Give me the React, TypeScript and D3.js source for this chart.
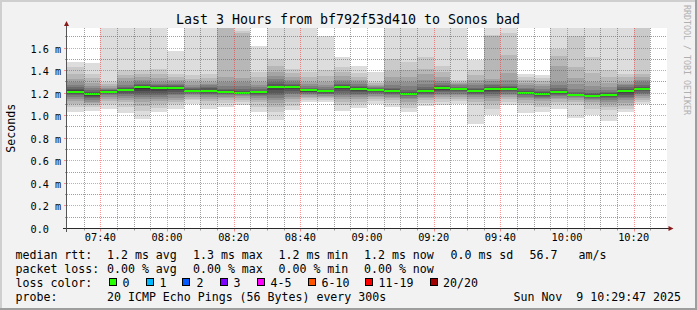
import React from "react";
import * as d3 from "d3";

const W = 697;
const H = 310;

// ---- data ----
const barStarts = [
  "07:30","07:35","07:40","07:45","07:50","07:55","08:00","08:05","08:10","08:15",
  "08:20","08:25","08:30","08:35","08:40","08:45","08:50","08:55","09:00","09:05",
  "09:10","09:15","09:20","09:25","09:30","09:35","09:40","09:45","09:50","09:55",
  "10:00","10:05","10:10","10:15","10:20",
];

const medianRtt = [
  1.212,1.189,1.212,1.230,1.251,1.242,1.242,1.221,1.221,1.209,
  1.204,1.206,1.251,1.251,1.224,1.215,1.251,1.233,1.224,1.215,
  1.189,1.215,1.242,1.233,1.215,1.233,1.233,1.204,1.189,1.206,
  1.180,1.171,1.180,1.215,1.233,
];

// 20 sorted ping RTTs (ms) per 5-minute step
const pingSets = [
  [1.032,1.077,1.106,1.130,1.150,1.165,1.180,1.190,1.200,1.208,1.215,1.224,1.236,1.254,1.268,1.298,1.327,1.372,1.431,1.475],
  [1.045,1.075,1.095,1.110,1.125,1.140,1.155,1.168,1.178,1.185,1.190,1.198,1.210,1.225,1.245,1.265,1.290,1.330,1.372,1.466],
  [1.062,1.100,1.130,1.150,1.168,1.180,1.190,1.198,1.204,1.210,1.213,1.218,1.225,1.232,1.240,1.250,1.262,1.280,1.298,1.850],
  [1.024,1.080,1.120,1.140,1.160,1.175,1.190,1.205,1.215,1.225,1.233,1.240,1.248,1.258,1.275,1.300,1.330,1.360,1.401,1.900],
  [0.973,1.040,1.090,1.120,1.145,1.165,1.185,1.200,1.220,1.240,1.255,1.262,1.270,1.280,1.295,1.315,1.340,1.370,1.401,1.950],
  [1.032,1.070,1.105,1.130,1.150,1.170,1.185,1.200,1.220,1.235,1.245,1.255,1.262,1.272,1.285,1.300,1.330,1.370,1.416,1.880],
  [1.062,1.100,1.120,1.140,1.160,1.180,1.195,1.210,1.225,1.237,1.245,1.252,1.260,1.270,1.283,1.300,1.320,1.345,1.372,1.578],
  [1.106,1.135,1.150,1.165,1.180,1.190,1.200,1.208,1.214,1.219,1.223,1.228,1.235,1.245,1.258,1.275,1.295,1.325,1.357,1.820],
  [1.062,1.106,1.130,1.150,1.165,1.180,1.192,1.203,1.212,1.218,1.224,1.232,1.242,1.255,1.270,1.285,1.298,1.330,1.372,1.860],
  [1.077,1.110,1.135,1.155,1.170,1.182,1.192,1.200,1.205,1.208,1.211,1.216,1.225,1.240,1.265,1.300,1.340,1.800,1.950,2.100],
  [1.091,1.120,1.140,1.160,1.172,1.183,1.192,1.198,1.202,1.204,1.206,1.212,1.222,1.238,1.262,1.295,1.330,1.730,1.752,1.900],
  [1.032,1.080,1.120,1.140,1.158,1.172,1.185,1.195,1.200,1.204,1.208,1.214,1.222,1.235,1.252,1.272,1.300,1.340,1.386,1.614],
  [0.959,1.030,1.080,1.110,1.136,1.158,1.180,1.200,1.225,1.245,1.255,1.265,1.280,1.300,1.325,1.350,1.390,1.440,1.504,1.900],
  [1.047,1.090,1.120,1.150,1.170,1.190,1.205,1.220,1.235,1.246,1.255,1.262,1.270,1.282,1.300,1.320,1.345,1.380,1.416,1.880],
  [1.121,1.140,1.155,1.170,1.180,1.190,1.198,1.206,1.214,1.221,1.227,1.233,1.240,1.250,1.262,1.280,1.300,1.340,1.386,1.820],
  [1.121,1.140,1.155,1.168,1.178,1.188,1.196,1.204,1.210,1.213,1.217,1.222,1.230,1.240,1.255,1.275,1.300,1.350,1.401,1.711],
  [1.041,1.091,1.120,1.145,1.165,1.185,1.205,1.222,1.238,1.248,1.254,1.262,1.272,1.285,1.300,1.320,1.350,1.390,1.431,1.519],
  [1.068,1.100,1.125,1.150,1.168,1.182,1.196,1.208,1.220,1.229,1.237,1.245,1.255,1.265,1.278,1.295,1.315,1.345,1.380,1.437],
  [1.106,1.130,1.150,1.165,1.178,1.190,1.200,1.208,1.215,1.221,1.227,1.233,1.240,1.248,1.256,1.265,1.275,1.288,1.298,1.386],
  [1.077,1.110,1.135,1.155,1.170,1.183,1.195,1.204,1.210,1.213,1.217,1.224,1.235,1.250,1.270,1.300,1.340,1.400,1.504,1.900],
  [1.032,1.070,1.100,1.125,1.145,1.160,1.172,1.180,1.185,1.188,1.191,1.197,1.210,1.230,1.260,1.298,1.340,1.401,1.475,1.880],
  [1.083,1.110,1.135,1.155,1.170,1.183,1.195,1.204,1.210,1.213,1.218,1.226,1.238,1.255,1.283,1.320,1.370,1.416,1.519,1.900],
  [1.091,1.121,1.145,1.165,1.180,1.195,1.208,1.220,1.230,1.238,1.245,1.252,1.262,1.275,1.290,1.310,1.342,1.390,1.437,1.850],
  [1.106,1.130,1.150,1.168,1.182,1.195,1.206,1.215,1.224,1.230,1.236,1.242,1.250,1.258,1.268,1.280,1.292,1.303,1.313,1.820],
  [0.923,1.091,1.120,1.145,1.165,1.180,1.192,1.202,1.209,1.213,1.217,1.224,1.235,1.250,1.268,1.290,1.320,1.360,1.401,1.490],
  [1.003,1.062,1.100,1.130,1.155,1.175,1.192,1.208,1.220,1.229,1.237,1.245,1.255,1.268,1.285,1.305,1.327,1.708,1.715,1.850],
  [1.091,1.121,1.145,1.165,1.182,1.196,1.208,1.218,1.226,1.231,1.235,1.242,1.252,1.265,1.285,1.320,1.380,1.534,1.730,1.880],
  [1.024,1.091,1.115,1.136,1.155,1.170,1.182,1.192,1.198,1.202,1.206,1.212,1.222,1.235,1.250,1.268,1.290,1.315,1.340,1.372],
  [1.032,1.077,1.105,1.128,1.145,1.158,1.170,1.178,1.184,1.187,1.191,1.198,1.208,1.222,1.240,1.260,1.283,1.310,1.335,1.357],
  [1.062,1.100,1.125,1.145,1.160,1.175,1.187,1.196,1.201,1.204,1.208,1.215,1.228,1.245,1.270,1.300,1.445,1.530,1.593,1.900],
  [0.982,1.091,1.120,1.140,1.155,1.165,1.172,1.176,1.178,1.179,1.181,1.186,1.195,1.212,1.240,1.283,1.330,1.431,1.711,1.900],
  [1.003,1.062,1.100,1.125,1.140,1.152,1.160,1.165,1.168,1.170,1.173,1.178,1.188,1.205,1.230,1.262,1.300,1.380,1.519,1.880],
  [0.953,1.047,1.080,1.105,1.125,1.142,1.156,1.166,1.173,1.178,1.182,1.188,1.198,1.212,1.232,1.258,1.290,1.340,1.401,1.850],
  [1.032,1.062,1.090,1.115,1.138,1.155,1.170,1.185,1.200,1.210,1.219,1.228,1.240,1.255,1.268,1.280,1.298,1.340,1.372,1.830],
  [1.106,1.121,1.140,1.158,1.175,1.190,1.205,1.217,1.226,1.231,1.236,1.245,1.258,1.275,1.295,1.318,1.340,1.372,1.800,1.950],
];

const yTickValues = [0, 0.2, 0.4, 0.6, 0.8, 1.0, 1.2, 1.4, 1.6];
const yTickLabels = ["0.0", "0.2 m", "0.4 m", "0.6 m", "0.8 m", "1.0 m", "1.2 m", "1.4 m", "1.6 m"];
const xTickLabels = ["07:40", "08:00", "08:20", "08:40", "09:00", "09:20", "09:40", "10:00", "10:20"];

const titleText = "Last 3 Hours from bf792f53d410 to Sonos bad";
const rttStats = ["1.2 ms avg", "1.3 ms max", "1.2 ms min", "1.2 ms now", "0.0 ms sd", "56.7", "am/s"];
const lossStats = ["0.00 % avg", "0.00 % max", "0.00 % min", "0.00 % now"];
const lossLabels = ["0", "1", "2", "3", "4-5", "6-10", "11-19", "20/20"];
const lossColors = ["#26ff00", "#00b8ff", "#0059ff", "#7e00ff", "#ff00ff", "#ff5500", "#ff0000", "#a10000"];
const probeText = "20 ICMP Echo Pings (56 Bytes) every 300s";
const dateText = "Sun Nov  9 10:29:47 2025";

// ---- layout ----
const PL = 67, PR = 667, PT = 28, PB = 228.5;
const rttStatX = [107, 193, 278.5, 364, 450.5, 529.5, 578.5];
const lossStatX = [107, 193, 278.5, 364];
const swatchX = [108.5, 145.5, 182, 219.5, 256.5, 307.5, 365, 430];
const swatchLabelX = [122.5, 159.5, 196.5, 233.5, 270.5, 321.5, 378.5, 443];

const FONT = "'DejaVu Sans Mono', monospace";

const toDate = (s: string) => {
  const [h, m] = s.split(":").map(Number);
  return new Date(2025, 10, 9, h, m);
};

export default function App() {
  const x = d3.scaleTime().domain([toDate("07:30"), toDate("10:30")]).range([PL, PR]);
  const y = d3.scaleLinear().domain([0, 1.7775]).range([PB, PT]);
  const snapY = (v: number) => Math.round(v - 0.5) + 0.5;
  const snapX = (v: number) => Math.round(v) + 0.5;

  const minorX = d3.timeMinute.range(toDate("07:35"), toDate("10:30"), 5);
  const majorX = xTickLabels.map(toDate);
  const majorSet = new Set(majorX.map((d) => d.getTime()));
  const minorOnlyX = minorX.filter((d) => !majorSet.has(d.getTime()));
  const minorY = d3.range(1, 18).map((i) => i / 10).filter((v) => Math.round(v * 10) % 2 !== 0);

  const gray = (i: number) => {
    const c = Math.floor((190 / 10) * (10 - (i + 1))) + 50;
    return `rgb(${c},${c},${c})`;
  };

  const minorColor = "rgba(95,95,95,0.6)";
  const majorColor = "rgba(255,0,0,0.42)";
  const legendSize = 11.6;
  const rowY = [258.5, 272.5, 286.5, 300.5];

  const minorVPath = minorOnlyX.map((d) => `M${snapX(x(d))},${PT}V${PB}`).join("");
  const majorVPath = majorX.map((d) => `M${snapX(x(d))},${PT}V${PB}`).join("");

  return (
    <svg
      width={W}
      height={H}
      viewBox={`0 0 ${W} ${H}`}
      style={{ position: "absolute", left: 0, top: 0, display: "block" }}
      fontFamily={FONT}
    >
      <defs>
        <clipPath id="plotclip">
          <rect x={PL} y={PT} width={PR - PL} height={PB - PT} />
        </clipPath>
      </defs>
      {/* background & frame */}
      <rect x={0} y={0} width={W} height={H} fill="#f2f2f2" />
      <rect x={0} y={0} width={W} height={2} fill="#cfcfcf" />
      <rect x={0} y={0} width={2} height={H} fill="#cfcfcf" />
      <rect x={0} y={H - 2} width={W} height={2} fill="#9e9e9e" />
      <rect x={W - 2} y={0} width={2} height={H} fill="#9e9e9e" />
      {/* canvas */}
      <rect x={PL} y={PT} width={PR - PL} height={PB - PT} fill="#ffffff" />

      {/* smoke */}
      <g clipPath="url(#plotclip)" shapeRendering="crispEdges">
        {barStarts.map((s, b) => {
          const t0 = toDate(s);
          const t1 = d3.timeMinute.offset(t0, 5);
          const x0 = Math.round(x(t0));
          const x1 = Math.round(x(t1));
          const p = pingSets[b];
          return (
            <g key={s}>
              {d3.range(10).map((i) => {
                const lo = p[i];
                const hi = p[19 - i];
                return (
                  <rect
                    key={i}
                    x={x0}
                    width={x1 - x0}
                    y={y(hi)}
                    height={Math.max(0, y(lo) - y(hi))}
                    fill={gray(i)}
                  />
                );
              })}
              <rect x={x0} width={x1 - x0} y={y(medianRtt[b]) - 1} height={2} fill={lossColors[0]} />
            </g>
          );
        })}
      </g>

      {/* grid */}
      <g strokeWidth={1} fill="none">
        {minorY.map((v) => (
          <line key={"my" + v} x1={PL} x2={PR} y1={snapY(y(v))} y2={snapY(y(v))} stroke={minorColor} strokeDasharray="1,1" />
        ))}
        <path d={minorVPath} stroke={minorColor} strokeDasharray="1,1" />
        {yTickValues.slice(1).map((v) => (
          <line key={"My" + v} x1={PL} x2={PR} y1={snapY(y(v))} y2={snapY(y(v))} stroke={majorColor} strokeDasharray="1,1" />
        ))}
        <path d={majorVPath} stroke={majorColor} strokeDasharray="1,1" />
        {/* ticks */}
        {minorY.map((v) => (
          <line key={"ty" + v} x1={PL - 2} x2={PL} y1={snapY(y(v))} y2={snapY(y(v))} stroke={minorColor} />
        ))}
        {yTickValues.slice(1).map((v) => (
          <line key={"Ty" + v} x1={PL - 3} x2={PL} y1={snapY(y(v))} y2={snapY(y(v))} stroke={majorColor} />
        ))}
        {minorOnlyX.map((d) => (
          <line key={"tx" + d.getTime()} x1={snapX(x(d))} x2={snapX(x(d))} y1={PB} y2={PB + 2} stroke={minorColor} />
        ))}
        {majorX.map((d) => (
          <line key={"Tx" + d.getTime()} x1={snapX(x(d))} x2={snapX(x(d))} y1={PB} y2={PB + 3} stroke={majorColor} />
        ))}
      </g>

      {/* axes */}
      <g shapeRendering="crispEdges">
        <line x1={PL - 4} x2={PR + 2} y1={PB} y2={PB} stroke="#2a2a2a" strokeWidth={1} />
        <line x1={PL - 0.5} x2={PL - 0.5} y1={PB + 3} y2={PT - 2} stroke="#555" strokeWidth={1} />
      </g>
      <polygon points={`${PL - 3},${PT - 2} ${PL + 2},${PT - 2} ${PL - 0.5},${PT - 7}`} fill="#8b1a1a" />
      <polygon points={`${PR + 1.5},${PB - 2.5} ${PR + 1.5},${PB + 2.5} ${PR + 6.5},${PB}`} fill="#8b1a1a" />

      {/* title */}
      <text x={348} y={24} fontSize={13.3} textAnchor="middle" fill="#000">{titleText}</text>

      {/* y labels */}
      {yTickValues.map((v, i) => (
        <text key={"yl" + v} x={30.5} y={y(v) + 4.5} fontSize={10.2} fill="#000">{yTickLabels[i]}</text>
      ))}
      {/* x labels */}
      {majorX.map((d, i) => (
        <text key={"xl" + i} x={x(d)} y={241} fontSize={10.3} textAnchor="middle" fill="#000">{xTickLabels[i]}</text>
      ))}

      {/* y axis title */}
      <text
        transform={`translate(15,${(PT + PB) / 2}) rotate(-90)`}
        fontSize={legendSize}
        textAnchor="middle"
        fill="#000"
      >
        Seconds
      </text>

      {/* watermark */}
      <text
        transform={`translate(684,5) rotate(90)`}
        fontSize={8.3}
        fill="#b0b0b0"
      >
        RRDTOOL / TOBI OETIKER
      </text>

      {/* legend */}
      <g fontSize={legendSize} fill="#000" style={{ whiteSpace: "pre" }}>
        <text x={15.5} y={rowY[0]}>median rtt:</text>
        {rttStats.map((s, i) => (
          <text key={"r" + i} x={rttStatX[i]} y={rowY[0]}>{s}</text>
        ))}
        <text x={15.5} y={rowY[1]}>packet loss:</text>
        {lossStats.map((s, i) => (
          <text key={"l" + i} x={lossStatX[i]} y={rowY[1]}>{s}</text>
        ))}
        <text x={15.5} y={rowY[2]}>loss color:</text>
        {lossLabels.map((s, i) => (
          <g key={"sw" + i}>
            <rect x={swatchX[i] + 0.5} y={278.5} width={7} height={7} fill={lossColors[i]} stroke="#000" strokeWidth={1} shapeRendering="crispEdges" />
            <text x={swatchLabelX[i]} y={rowY[2]}>{s}</text>
          </g>
        ))}
        <text x={15.5} y={rowY[3]}>probe:</text>
        <text x={107} y={rowY[3]}>{probeText}</text>
        <text x={681} y={rowY[3]} textAnchor="end" xmlSpace="preserve">{dateText}</text>
      </g>
    </svg>
  );
}
